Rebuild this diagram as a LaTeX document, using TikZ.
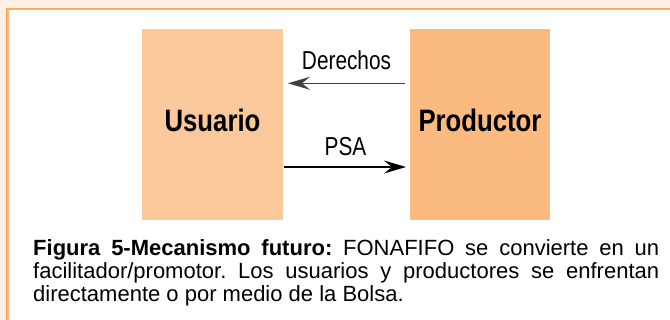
\documentclass[tikz,border=0pt]{standalone}
\usepackage{fontspec}
\setmainfont{Liberation Sans}
\newfontfamily\headfont[FakeStretch=0.83]{Liberation Sans Bold}
\newfontfamily\arrfont[FakeStretch=0.8]{Liberation Sans}
\usetikzlibrary{arrows.meta,calc}
\definecolor{cream}{HTML}{FDF0E4}
\definecolor{framedark}{HTML}{FBA25C}
\definecolor{framelight}{HTML}{FDB77C}
\definecolor{usrc}{HTML}{FBC89B}
\definecolor{prodc}{HTML}{FBBA80}
\definecolor{arrgray}{HTML}{404040}
\tikzset{
  boxnode/.style={minimum width=141pt, minimum height=191pt, inner sep=0pt, outer sep=0pt,
    text height=22pt, text depth=8pt, font=\headfont\fontsize{31}{31}\selectfont},
  arrlbl/.style={inner sep=0pt, font=\arrfont\fontsize{26}{26}\selectfont},
  conn/.style={line width=1.5pt, -{Stealth[length=22pt,width=13pt,inset=8pt]}},
  captext/.style={anchor=north west, inner sep=0pt, text width=626pt, align=justify,
    font=\frenchspacing\fontsize{22}{23}\selectfont}
}
\begin{document}
\begin{tikzpicture}[x=1pt,y=1pt]
\useasboundingbox (0,0) rectangle (670,320);
\fill[cream] (0,0) rectangle (670,320);
\fill[white] (8,0) rectangle (670,310.3);
\draw[framedark, line width=1.5pt] (6.7,0) -- (6.7,311.6) -- (670,311.6);
\draw[framelight, line width=1.4pt] (8,0) -- (8,310.3) -- (670,310.3);

\node[boxnode, fill=usrc] (usr) at (212.5,195.5) {Usuario};
\node[boxnode, fill=prodc, minimum width=140pt] (prod) at (480,195.5) {Productor};

\node[arrlbl, anchor=base] (der) at (346.5,250) {Derechos};
\node[arrlbl, anchor=base] (psa) at (345.5,164) {PSA};

\coordinate (dy) at (0,236.7);
\coordinate (py) at (0,153);
\draw[conn, draw=arrgray, fill=black] ($(prod.west |- dy)+(-5,0)$) -- ($(usr.east |- dy)+(5,0)$);
\draw[conn] ($(usr.east |- py)+(1,0)$) -- ($(prod.west |- py)+(-4,0)$);

\node[captext] (cap) at (33,81) {\textbf{Figura 5-Mecanismo futuro:} FONAFIFO se convierte en un\linebreak facilitador/promotor. Los usuarios y productores se enfrentan\linebreak directamente o por medio de la Bolsa.};
\end{tikzpicture}
\end{document}
